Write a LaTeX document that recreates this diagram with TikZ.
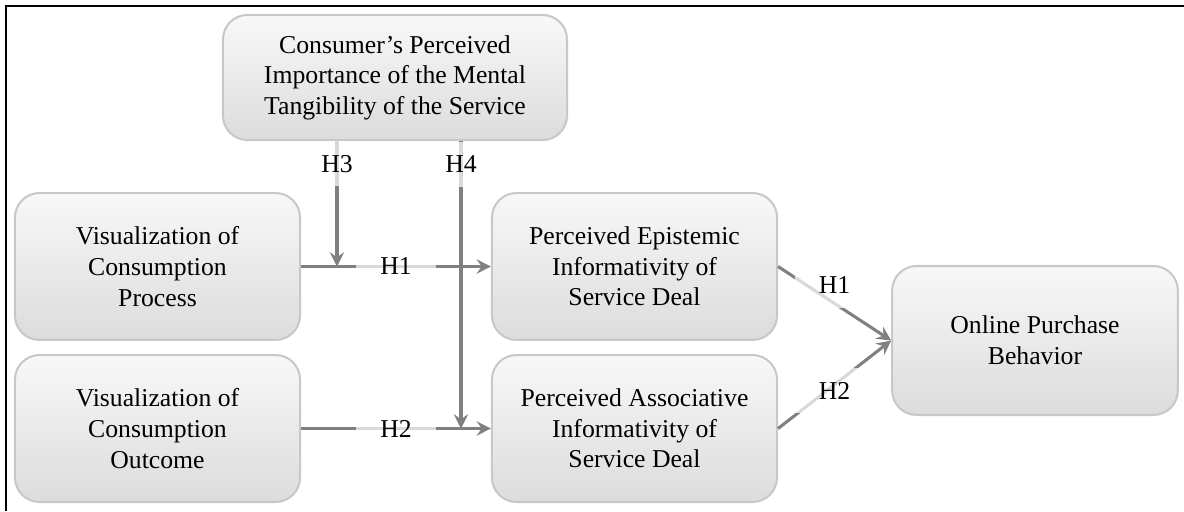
\documentclass[tikz,border=0pt]{standalone}
\usepackage{fontspec}
\setmainfont{Liberation Serif}
\usepackage{tikz}
\usetikzlibrary{arrows.meta}
\definecolor{boxline}{HTML}{C8C8C8}
\definecolor{boxtop}{HTML}{F8F8F8}
\definecolor{boxmid}{HTML}{EEEEEE}
\definecolor{boxbottom}{HTML}{DCDCDC}
\definecolor{linkgray}{HTML}{808080}

\begin{document}
\begin{tikzpicture}[x=0.49pt,y=-0.49pt,
    construct/.style={draw=boxline,line width=1pt,rounded corners=12pt,
        top color=boxtop,middle color=boxmid,bottom color=boxbottom,align=center,
        font=\fontsize{12.6pt}{15pt}\selectfont,
        minimum width=139.7pt,minimum height=72pt},
    link/.style={linkgray,line width=1.5pt},
    hyp/.style={fill=white,fill opacity=0.7,text opacity=1,text=black,
        font=\fontsize{12.6pt}{15pt}\selectfont,
        minimum width=39pt,minimum height=22pt,inner sep=0pt},
    >={Stealth[length=7pt,width=7pt,inset=2.5pt]}]
    \useasboundingbox (0,0) rectangle (1184,511);
    \draw[line width=1pt] (6,511) -- (6,6) -- (1184,6);

    \node[construct,minimum width=168.6pt,minimum height=61.3pt] (tangibility) at (395,77.5)
        {Consumer’s Perceived\\Importance of the Mental\\Tangibility of the Service};
    \node[construct] (process) at (157.5,266.5) {Visualization of\\Consumption\\Process};
    \node[construct] (outcome) at (157.5,428.5) {Visualization of\\Consumption\\Outcome};
    \node[construct] (epistemic) at (634.5,266.5) {Perceived Epistemic\\Informativity of\\Service Deal};
    \node[construct] (associative) at (634.5,428.5) {Perceived Associative\\Informativity of\\Service Deal};
    \node[construct,minimum width=140pt,minimum height=73pt] (purchase) at (1035,340.5)
        {Online Purchase\\Behavior};

    \coordinate (h3end) at (337,266.5);
    \coordinate (h4end) at (461,428.5);

    \draw[link,->] (process.east) -- node[hyp] {H1} (epistemic.west);
    \draw[link,->] (outcome.east) -- node[hyp] {H2} (associative.west);
    \draw[link,->] (tangibility.south -| h3end) -- node[hyp,pos=0.18] {H3} (h3end);
    \draw[link,->] (tangibility.south -| h4end) -- node[hyp,pos=0.08] {H4} (h4end);
    \draw[link,->] (epistemic.east) -- node[hyp,yshift=9pt] {H1} (purchase.west);
    \draw[link,->] (associative.east) -- node[hyp,yshift=-3pt] {H2} (purchase.west);
\end{tikzpicture}
\end{document}
